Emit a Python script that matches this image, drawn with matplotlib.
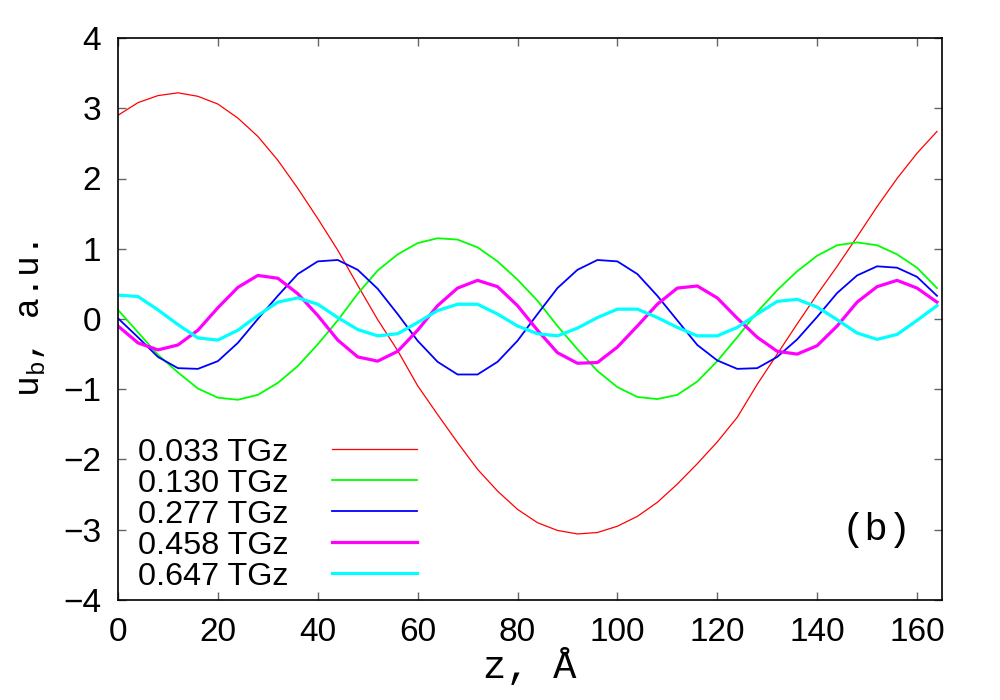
import matplotlib
matplotlib.use("Agg")
import matplotlib.pyplot as plt
import numpy as np

# z positions (every 4 A)
z = np.arange(0, 165, 4)

u_033 = [2.90, 3.08, 3.18, 3.22, 3.17, 3.06, 2.86, 2.60, 2.26, 1.86, 1.43, 0.98,
         0.48, -0.01, -0.45, -0.95, -1.36, -1.76, -2.14, -2.45, -2.71, -2.90,
         -3.01, -3.06, -3.04, -2.95, -2.81, -2.61, -2.35, -2.06, -1.75, -1.40,
         -0.93, -0.50, -0.07, 0.35, 0.75, 1.17, 1.60, 2.00, 2.36, 2.67]
u_130 = [0.13, -0.19, -0.51, -0.76, -0.99, -1.12, -1.15, -1.08, -0.91, -0.67, -0.36,
         -0.02, 0.36, 0.69, 0.92, 1.08, 1.15, 1.13, 1.02, 0.82, 0.56,
         0.26, -0.10, -0.43, -0.74, -0.97, -1.11, -1.14, -1.08, -0.89, -0.60,
         -0.26, 0.10, 0.41, 0.68, 0.90, 1.05, 1.09, 1.05, 0.92, 0.73, 0.44]
u_277 = [0.01, -0.26, -0.54, -0.70, -0.71, -0.60, -0.34, 0.00, 0.33, 0.64, 0.82,
         0.84, 0.70, 0.43, 0.07, -0.31, -0.61, -0.79, -0.79, -0.61, -0.31,
         0.07, 0.44, 0.70, 0.84, 0.82, 0.64, 0.33, -0.02, -0.37, -0.59,
         -0.71, -0.70, -0.54, -0.29, 0.03, 0.37, 0.62, 0.75, 0.73, 0.60, 0.33]
u_458 = [-0.10, -0.34, -0.44, -0.37, -0.16, 0.16, 0.45, 0.62, 0.58, 0.36, 0.05,
         -0.30, -0.54, -0.60, -0.46, -0.16, 0.19, 0.44, 0.55, 0.46, 0.19,
         -0.16, -0.48, -0.63, -0.62, -0.40, -0.10, 0.21, 0.44, 0.47, 0.30,
         0.01, -0.26, -0.46, -0.50, -0.38, -0.10, 0.24, 0.46, 0.55, 0.44, 0.24]
u_647 = [0.34, 0.32, 0.13, -0.08, -0.27, -0.30, -0.16, 0.05, 0.24, 0.30, 0.21,
         0.02, -0.15, -0.24, -0.21, -0.05, 0.12, 0.21, 0.21, 0.07, -0.10,
         -0.21, -0.24, -0.13, 0.02, 0.14, 0.14, 0.02, -0.12, -0.24, -0.24,
         -0.12, 0.07, 0.25, 0.28, 0.17, -0.01, -0.20, -0.29, -0.22, -0.02, 0.19]

series = [u_033, u_130, u_277, u_458, u_647]
labels = ["0.033 TGz", "0.130 TGz", "0.277 TGz", "0.458 TGz", "0.647 TGz"]
colors = ["#ff0000", "#00ff00", "#0000ff", "#ff00ff", "#00ffff"]
widths = [0.9, 1.3, 1.3, 2.3, 2.3]

plt.rcParams["font.family"] = ["Liberation Sans", "DejaVu Sans"]
plt.rcParams["mathtext.fontset"] = "custom"
plt.rcParams["mathtext.rm"] = "Liberation Mono"

fig = plt.figure(figsize=(10, 7), dpi=100)
ax = fig.add_axes([0.118, 0.1429, 0.824, 0.8028])

for y, lab, c, w in zip(series, labels, colors, widths):
    ax.plot(z, y, color=c, lw=w, label=lab)

ax.set_xlim(0, 165)
ax.set_ylim(-4, 4)
ax.set_xticks(np.arange(0, 161, 20))
ax.set_yticks(np.arange(-4, 5, 1))
ax.set_yticklabels(["\u22124", "\u22123", "\u22122", "\u22121", "0", "1", "2", "3", "4"])
ax.tick_params(direction="in", length=6, width=1, color="#666666",
               top=True, right=True, labelsize=24, pad=12)
for s in ax.spines.values():
    s.set_linewidth(1.2)

mono = "Liberation Mono"
ax.set_xlabel("z, Å", family=mono, fontsize=28, labelpad=0)
ax.set_ylabel(r"u$_{\mathrm{b}}$, a.u.", family=mono, fontsize=25, labelpad=12)
ax.text(0.92, 0.125, "(b)", transform=ax.transAxes, family=mono, fontsize=28,
        ha="center", va="center")

ax.legend(loc="lower left", bbox_to_anchor=(0.024, 0.015), frameon=False,
          markerfirst=False, fontsize=23.3, handlelength=2.62, handletextpad=1.36,
          labelspacing=0.03, borderpad=0, borderaxespad=0)

fig.savefig("out.png", dpi=100)
